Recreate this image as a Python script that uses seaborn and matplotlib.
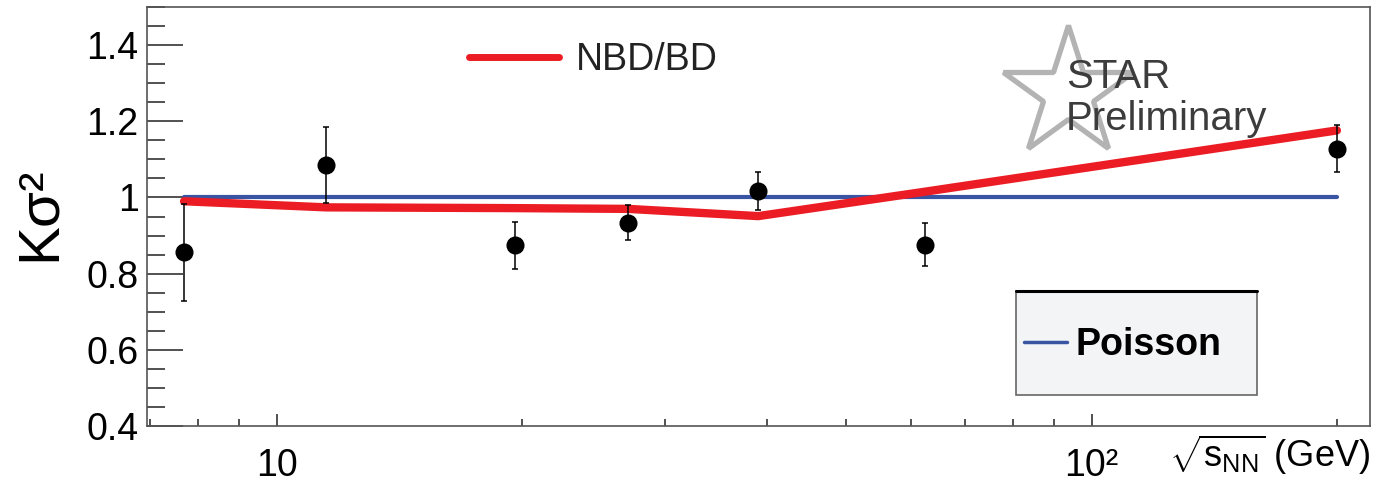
import numpy as np
import pandas as pd
import matplotlib
matplotlib.use('Agg')
import matplotlib.pyplot as plt
import seaborn as sns
from matplotlib.ticker import (FixedLocator, FixedFormatter, MultipleLocator,
                               LogLocator, NullFormatter, FuncFormatter)
from matplotlib.lines import Line2D
from matplotlib.patches import Rectangle

# ---- data ----
energy = [7.7, 11.5, 19.6, 27, 39, 62.4, 200]
kappa_sigma2 = [0.856, 1.086, 0.874, 0.934, 1.017, 0.876, 1.128]
kappa_err = [0.127, 0.100, 0.061, 0.047, 0.049, 0.057, 0.062]
nbd_bd = [0.990, 0.974, 0.972, 0.970, 0.951, 1.015, 1.176]
poisson_x = [7.7, 200]
poisson_y = [1.0, 1.0]
y_ticks = [0.4, 0.6, 0.8, 1.0, 1.2, 1.4]
x_ticks = [10, 100]
x_tick_labels = ['10', '10²']

sns.set_theme(style='white')
plt.rcParams['font.family'] = ['Liberation Sans', 'DejaVu Sans']
plt.rcParams['mathtext.fontset'] = 'custom'
plt.rcParams['mathtext.rm'] = 'Liberation Sans'
plt.rcParams['mathtext.it'] = 'Liberation Sans:italic'
plt.rcParams['mathtext.bf'] = 'Liberation Sans:bold'

W, H = 1377, 483
fig = plt.figure(figsize=(W / 100, H / 100), dpi=100)
L, R, T, B = 147, 1370, 7, 426
ax = fig.add_axes([L / W, 1 - B / H, (R - L) / W, (B - T) / H])
ax.set_xscale('log')

RED = '#ec1c24'
BLUE = '#3a54a4'

df_pois = pd.DataFrame({'energy': poisson_x, 'value': poisson_y})
df_model = pd.DataFrame({'energy': energy, 'value': nbd_bd})
sns.lineplot(data=df_pois, x='energy', y='value', ax=ax, color=BLUE, lw=3.0, zorder=2)
sns.lineplot(data=df_model, x='energy', y='value', ax=ax, color=RED, lw=6.0, zorder=3)
ax.errorbar(energy, kappa_sigma2, yerr=kappa_err, fmt='o', color='black', ms=12,
            elinewidth=1.1, capsize=2.5, capthick=1.1, zorder=4)

ax.set_xlim(6.935, 219.6)
ax.set_ylim(0.4, 1.5)

ax.yaxis.set_major_locator(FixedLocator(y_ticks))
ax.yaxis.set_major_formatter(FuncFormatter(lambda v, p: f'{v:g}'))
ax.yaxis.set_minor_locator(MultipleLocator(0.05))
ax.xaxis.set_major_locator(FixedLocator(x_ticks))
ax.xaxis.set_major_formatter(FixedFormatter(x_tick_labels))
ax.xaxis.set_minor_locator(LogLocator(base=10, subs=np.arange(2, 10) * 1.0, numticks=20))
ax.xaxis.set_minor_formatter(NullFormatter())

tc = '#333333'
ax.tick_params(axis='y', which='major', direction='in', length=26, width=1.2, color=tc,
               labelsize=27, pad=6, left=True, right=False, labelcolor='black')
ax.tick_params(axis='y', which='minor', direction='in', length=13, width=1.2, color=tc,
               left=True, right=False)
ax.tick_params(axis='x', which='major', direction='in', length=9, width=1.2, color=tc,
               labelsize=27, pad=16, bottom=True, top=False, labelcolor='black')
ax.tick_params(axis='x', which='minor', direction='in', length=5, width=1.2, color=tc,
               bottom=True, top=False)
for s in ax.spines.values():
    s.set_color('#555555')
    s.set_linewidth(1.2)

ax.set_ylabel('Kσ²', fontsize=42, color='black')
ax.yaxis.set_label_coords(-0.066, 0.506)
ax.set_xlabel(r'$\sqrt{\mathrm{s}_{\mathrm{NN}}}$ (GeV)', fontsize=26, color='black')
ax.xaxis.set_label_coords(1.0, -0.016)
ax.xaxis.label.set_ha('right')
ax.xaxis.label.set_va('top')

# STAR Preliminary watermark
ax.plot([1068 / W], [1 - 93 / H], marker='*', ms=98, mfc='none', mec='#b3b3b3', mew=3.8,
        transform=fig.transFigure, clip_on=False, zorder=1)
fig.text(1066 / W, 1 - 88 / H, 'STAR', fontsize=29, color='#3c3c3c', va='baseline', zorder=6)
fig.text(1066 / W, 1 - 130 / H, 'Preliminary', fontsize=29, color='#3c3c3c', va='baseline', zorder=6)

# NBD/BD legend
leg1 = ax.legend(handles=[Line2D([], [], color=RED, lw=5)], labels=['NBD/BD'],
                 loc='center left', bbox_to_anchor=((469 - L) / (R - L), (B - 60) / (B - T)),
                 frameon=False, fontsize=27, handlelength=2.4, handletextpad=0.45,
                 borderpad=0, borderaxespad=0, labelcolor='#222222')
ax.add_artist(leg1)

# Poisson legend box
bx0 = (1016 - L) / (R - L)
bx1 = (1257 - L) / (R - L)
by1 = (B - 291) / (B - T)
by0 = (B - 395) / (B - T)
ax.add_patch(Rectangle((bx0, by0), bx1 - bx0, by1 - by0, transform=ax.transAxes,
                       fc='#f3f4f6', ec='#666666', lw=1.2, zorder=5, clip_on=False))
ax.plot([bx0, bx1], [by1, by1], transform=ax.transAxes, color='black', lw=2.2,
        zorder=6, clip_on=False)
leg2 = ax.legend(handles=[Line2D([], [], color=BLUE, lw=2.5)], labels=['Poisson'],
                 loc='center left', bbox_to_anchor=((1024 - L) / (R - L), (B - 345) / (B - T)),
                 frameon=False, prop={'size': 27, 'weight': 'bold'}, handlelength=1.15,
                 handletextpad=0.22, borderpad=0, borderaxespad=0, labelcolor='black')
leg2.set_zorder(7)

fig.savefig('out.png', dpi=100)
